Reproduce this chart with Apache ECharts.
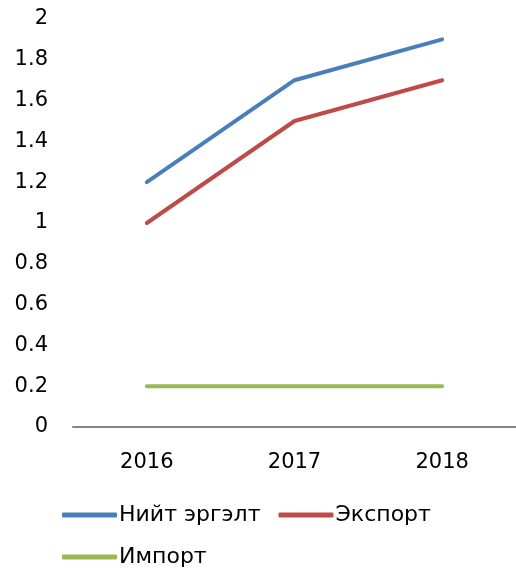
<!DOCTYPE html>
<html>
<head>
<meta charset="utf-8">
<script src="https://cdn.jsdelivr.net/npm/echarts@6/dist/echarts.min.js"></script>
<style>
  html, body { margin: 0; padding: 0; background: #fff; }
  #main { width: 516px; height: 571px; }
</style>
</head>
<body>
<div id="main"></div>
<script>
var years = ['2016', '2017', '2018'];
var total = [1.2, 1.7, 1.9];
var exportVals = [1.0, 1.5, 1.7];
var importVals = [0.2, 0.2, 0.2];

var myChart = echarts.init(document.getElementById('main'));

var font = 'DejaVu Sans, Arial, sans-serif';

function lineSeries(name, data, color) {
    return {
        name: name,
        type: 'line',
        data: data,
        symbol: 'none',
        lineStyle: { color: color, width: 4, cap: 'round' },
        itemStyle: { color: color }
    };
}

var option = {
    animation: false,
    grid: { left: 73, right: 0, top: 19, bottom: 144 },
    legend: {
        left: 57,
        top: 494,
        width: 440,
        icon: 'roundRect',
        itemWidth: 55,
        itemHeight: 5,
        itemGap: 10,
        textStyle: { fontFamily: font, fontSize: 22, lineHeight: 32, color: '#000', padding: [0, 8, 0, -3] },
        data: ['Нийт эргэлт', 'Экспорт', 'Импорт']
    },
    xAxis: {
        type: 'category',
        data: years,
        axisLine: { lineStyle: { color: '#868686', width: 2 } },
        axisTick: { show: false },
        axisLabel: { fontFamily: font, fontSize: 21, color: '#000', margin: 25 }
    },
    yAxis: {
        type: 'value',
        min: 0,
        max: 2,
        interval: 0.2,
        axisLine: { show: false },
        axisTick: { show: false },
        splitLine: { show: false },
        axisLabel: { fontFamily: font, fontSize: 21, color: '#000', margin: 25 }
    },
    series: [
        lineSeries('Нийт эргэлт', total, '#4a7ebb'),
        lineSeries('Экспорт', exportVals, '#be4b48'),
        lineSeries('Импорт', importVals, '#98b954')
    ]
};

myChart.setOption(option);
</script>
</body>
</html>
